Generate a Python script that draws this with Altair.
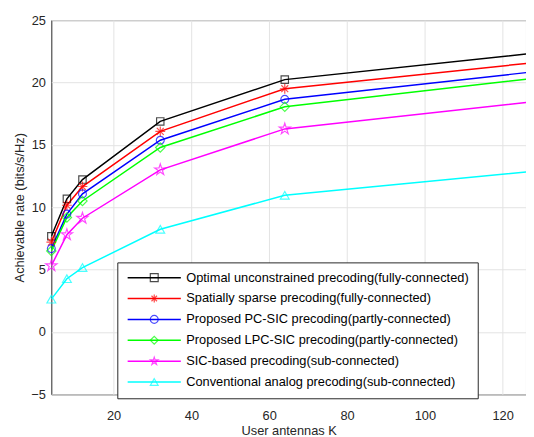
import altair as alt
import pandas as pd

# ---- data ----
K = [4, 8, 12, 32, 64, 128]
series_names = [
    "Optimal unconstrained precoding(fully-connected)",
    "Spatially sparse precoding(fully-connected)",
    "Proposed PC-SIC precoding(partly-connected)",
    "Proposed LPC-SIC precoding(partly-connected)",
    "SIC-based precoding(sub-connected)",
    "Conventional analog precoding(sub-connected)",
]
marker_keys = ["m1", "m2", "m3", "m4", "m5", "m6"]
optimal = [7.67, 10.67, 12.22, 16.88, 20.23, 22.35]
sparse = [7.20, 10.16, 11.66, 16.08, 19.50, 21.59]
pc_sic = [6.68, 9.45, 11.07, 15.37, 18.65, 20.86]
lpc_sic = [6.50, 9.18, 10.50, 14.79, 18.05, 20.34]
sic_based = [5.31, 7.80, 9.12, 13.00, 16.28, 18.47]
analog = [2.63, 4.27, 5.16, 8.23, 10.96, 12.88]

x_ticks = [20, 40, 60, 80, 100, 120]
y_ticks = [-5, 0, 5, 10, 15, 20, 25]

colors = ["#000000", "#ff0000", "#0000ff", "#00ff00", "#ff00ff", "#00ffff"]
ASTERISK = "M-1,0H1M0,-1V1M-0.7,-0.7L0.7,0.7M-0.7,0.7L0.7,-0.7"
PENTAGRAM = ("M0,-1L0.2245,-0.309L0.9511,-0.309L0.3633,0.118L0.5878,0.809L0,0.382"
             "L-0.5878,0.809L-0.3633,0.118L-0.9511,-0.309L-0.2245,-0.309Z")
shapes = ["square", ASTERISK, "circle", "diamond", PENTAGRAM, "triangle-up"]
marker_sizes = [56, 100, 64, 90, 140, 80]

# blank (non-whitespace) padding kept in the legend domain to widen the box;
# it is stripped from the shown label text by labelExpr
N_PAD = 3
BLANK = "\u2800" * N_PAD
legend_keys = [n + BLANK for n in series_names]

all_vals = [optimal, sparse, pc_sic, lpc_sic, sic_based, analog]
rows = []
for key, mk, vals, ms in zip(legend_keys, marker_keys, all_vals, marker_sizes):
    for k, v in zip(K, vals):
        rows.append({"K": k, "rate": v, "series": key, "series_m": mk, "msize": ms})
df = pd.DataFrame(rows)

FONT = "Liberation Sans"

x = alt.X(
    "K:Q",
    scale=alt.Scale(domain=[4, 126], nice=False, zero=False),
    axis=alt.Axis(values=x_ticks, title="User antennas K", labelPadding=16, titlePadding=2),
)
y = alt.Y(
    "rate:Q",
    scale=alt.Scale(domain=[-5, 25], nice=False, zero=False),
    axis=alt.Axis(values=y_ticks, title="Achievable rate (bits/s/Hz)", labelPadding=6, titlePadding=4),
)

common_legend = dict(
    orient="none",
    legendX=67,
    legendY=246,
    title=None,
    symbolSize=64,
    symbolOffset=22,
    labelOffset=26,
    padding=9,
    rowPadding=7.2,
    labelFont=FONT,
    labelFontSize=13,
    labelColor="#000000",
    labelLimit=600,
)

line_legend = alt.Legend(
    symbolType="M-6.75,0H6.75",
    symbolStrokeWidth=1.5,
    fillColor="white",
    strokeColor="#262626",
    labelExpr=f"slice(datum.label, 0, -{N_PAD})",
    **common_legend,
)
marker_legend = alt.Legend(
    symbolStrokeWidth=1.2,
    labelOpacity=0,
    labelExpr="''",
    **common_legend,
)

lines = alt.Chart(df).mark_line(strokeWidth=1.5, clip=True).encode(
    x=x,
    y=y,
    color=alt.Color(
        "series:N",
        scale=alt.Scale(domain=legend_keys, range=colors),
        sort=legend_keys,
        legend=line_legend,
    ),
)

points = alt.Chart(df[df["K"] <= 64]).mark_point(filled=False, strokeWidth=1.2).encode(
    x=x,
    y=y,
    stroke=alt.Stroke(
        "series_m:N",
        scale=alt.Scale(domain=marker_keys, range=colors),
        sort=marker_keys,
        legend=marker_legend,
    ),
    shape=alt.Shape(
        "series_m:N",
        scale=alt.Scale(domain=marker_keys, range=shapes),
        sort=marker_keys,
        legend=marker_legend,
    ),
    size=alt.Size("msize:Q", scale=None),
)

chart = (
    alt.layer(lines, points)
    .properties(
        width=482,
        height=380,
        autosize=alt.AutoSizeParams(type="none"),
        padding={"left": 44, "top": 9, "right": 0, "bottom": 40},
    )
    .configure_view(stroke="#262626", strokeWidth=1)
    .configure_axis(
        grid=True,
        gridColor="#e3e3e3",
        domain=False,
        ticks=False,
        labelFont=FONT,
        labelFontSize=13,
        labelColor="#262626",
        titleFont=FONT,
        titleFontSize=13,
        titleColor="#262626",
        titleFontWeight="normal",
    )
)

chart.save("out.html", embed_options={"renderer": "svg", "actions": False})
